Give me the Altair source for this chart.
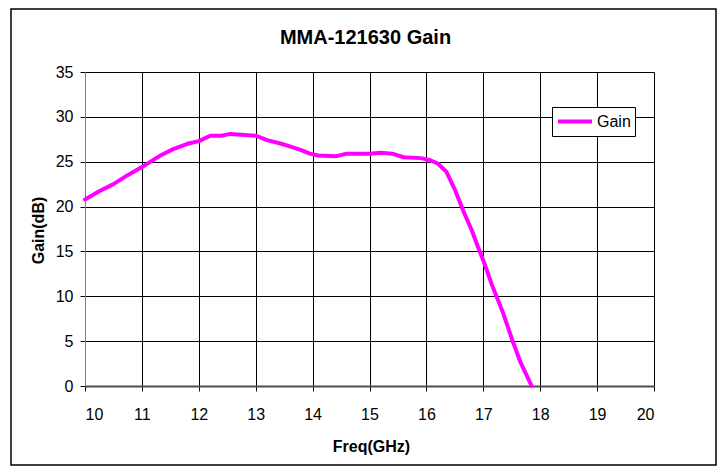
import altair as alt
import pandas as pd

# ---- data ----
freq = [10.0, 10.25, 10.5, 10.75, 11.0, 11.3, 11.55, 11.8, 12.0, 12.2, 12.4,
        12.55, 12.75, 13.0, 13.2, 13.45, 13.6, 13.8, 13.95, 14.1, 14.4, 14.6,
        15.0, 15.2, 15.4, 15.6, 15.9, 16.05, 16.2, 16.35, 16.5, 16.65, 16.8,
        16.9, 17.0, 17.15, 17.35, 17.5, 17.65, 17.85]
gain = [20.8, 21.7, 22.5, 23.5, 24.4, 25.6, 26.4, 27.0, 27.3, 27.9, 27.9,
        28.1, 28.0, 27.9, 27.4, 27.0, 26.7, 26.3, 25.9, 25.7, 25.6, 25.9,
        25.9, 26.0, 25.9, 25.5, 25.4, 25.2, 24.8, 23.9, 21.9, 19.5, 17.3,
        15.6, 14.0, 11.3, 8.1, 5.3, 2.7, 0.0]
series = ["Gain"] * len(freq)

x_ticks = list(range(10, 21))
y_ticks = list(range(0, 36, 5))

title_text = "MMA-121630 Gain"
x_title = "Freq(GHz)"
y_title = "Gain(dB)"

df = pd.DataFrame({"freq": freq, "gain": gain, "series": series})

FONT = "Liberation Sans"

line = alt.Chart(df).mark_line(strokeWidth=4, strokeCap="round", strokeJoin="round").encode(
    x=alt.X("freq:Q",
            scale=alt.Scale(domain=[10, 20], nice=False, zero=False),
            axis=alt.Axis(values=x_ticks, title=x_title, format="d",
                          grid=True, gridColor="#000000", gridWidth=1,
                          domainColor="#4d4d4d", domainWidth=2,
                          tickColor="#000000", tickSize=5,
                          labelPadding=15, labelFontSize=16, labelFont=FONT,
                          labelColor="#000000",
                          titleFont=FONT, titleFontSize=16, titleFontWeight="bold",
                          titleColor="#000000",
                          titleX=286, titleY=65, titleBaseline="alphabetic")),
    y=alt.Y("gain:Q",
            scale=alt.Scale(domain=[0, 35], nice=False, zero=False),
            axis=alt.Axis(values=y_ticks, title=y_title,
                          grid=True, gridColor="#000000", gridWidth=1,
                          domainColor="#808080", domainWidth=1,
                          tickColor="#000000", tickSize=5,
                          labelPadding=7, labelFontSize=16, labelFont=FONT,
                          labelColor="#000000",
                          titleFont=FONT, titleFontSize=16, titleFontWeight="bold",
                          titleColor="#000000", titleAngle=-90,
                          titleX=-42, titleY=158, titleAlign="center",
                          titleBaseline="alphabetic")),
    color=alt.Color("series:N",
                    scale=alt.Scale(domain=["Gain"], range=["#FF00FF"]),
                    legend=alt.Legend(title=None, orient="none",
                                      legendX=467, legendY=35,
                                      symbolType="stroke", symbolSize=1156,
                                      symbolStrokeWidth=4, clipHeight=21,
                                      labelFontSize=16, labelFont=FONT,
                                      labelColor="#000000", labelOffset=3,
                                      padding=4, strokeColor="#000000",
                                      fillColor="#ffffff")),
)

border = alt.Chart(pd.DataFrame({"a": [0]})).mark_rect(
    fillOpacity=0, stroke="#000000", strokeWidth=1.5
).encode(
    x=alt.value(-74), x2=alt.value(631),
    y=alt.value(-63), y2=alt.value(393),
)

chart = alt.layer(border, line).properties(
    width=569, height=314,
    title=alt.Title(title_text, font=FONT, fontSize=20, fontWeight="bold",
                    color="#000000", anchor="middle", baseline="alphabetic",
                    offset=-55.5, dx=-4),
    autosize=alt.AutoSizeParams(type="none"),
    padding={"left": 77, "top": 64, "right": 63, "bottom": 80},
).configure_view(
    stroke="#808080", strokeWidth=1
).configure(
    background="#ffffff"
)

chart.save("out.html", embed_options={"renderer": "svg", "actions": False})
